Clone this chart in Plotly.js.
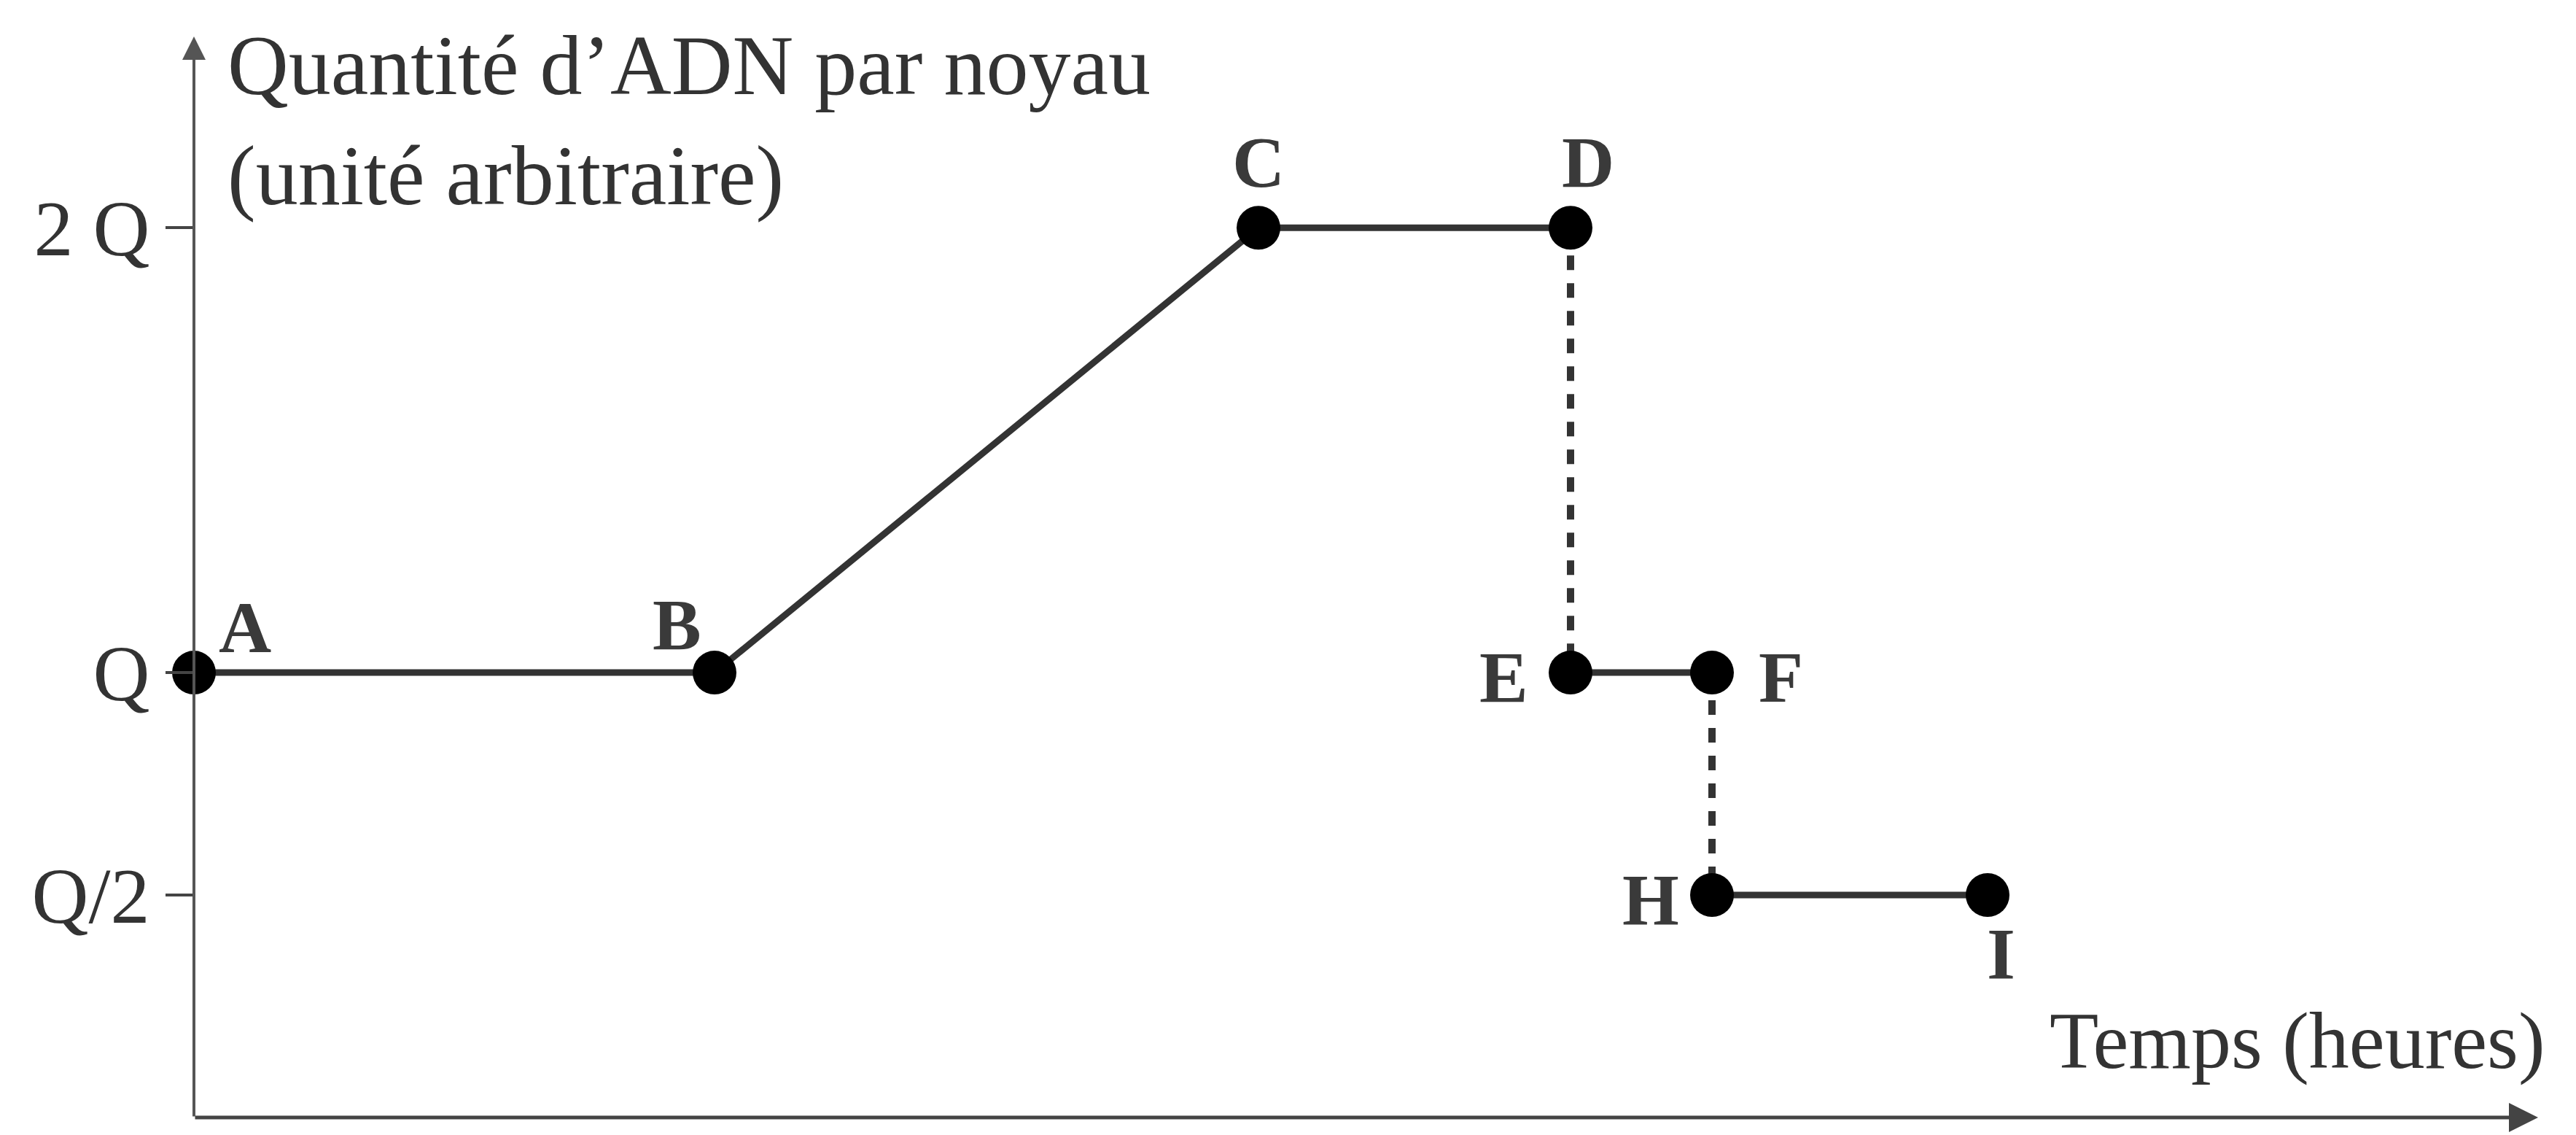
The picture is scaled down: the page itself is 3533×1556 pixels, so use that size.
<!DOCTYPE html>
<html>
<head>
<meta charset="utf-8">
<script src="https://cdn.plot.ly/plotly-3.0.1.min.js"></script>
<style>html,body{margin:0;padding:0;background:#fff;}#chart{width:3533px;height:1556px;}</style>
</head>
<body>
<div id="chart"></div>
<script>
// ---- data ----
const pointLabels = ['A', 'B', 'C', 'D', 'E', 'F', 'H', 'I'];
const times = [0, 7.14, 14.6, 18.88, 18.88, 20.82, 20.82, 24.6];
const dnaAmount = [1, 1, 2, 2, 1, 1, 0.5, 0.5];
const solidSegments = [[0, 1, 2, 3], [4, 5], [6, 7]];
const dashedSegments = [[3, 4], [5, 6]];
const yTickValues = [0.5, 1, 2];
const yTickLabels = ['Q/2', 'Q', '2 Q'];
const yTitle = ['Quantité d\u2019ADN par noyau', '(unité arbitraire)'];
const xTitle = 'Temps (heures)';

// ---- styling ----
const FONT = 'Liberation Serif, Times New Roman, serif';
const INK = '#333333';
const X_MAX = 32.15, Y_MAX = 2.43;
const labelOffsets = {
  A: [70, 62], B: [-52, 66], C: [0, 90], D: [24, 90],
  E: [-92, -6], F: [94, -6], H: [-84, -6], I: [18, -80]
};

function segTrace(groups, dash, width) {
  const x = [], y = [];
  groups.forEach((g, k) => {
    if (k > 0) { x.push(null); y.push(null); }
    g.forEach(i => { x.push(times[i]); y.push(dnaAmount[i]); });
  });
  return {
    type: 'scatter', mode: 'lines', x, y, hoverinfo: 'skip', showlegend: false,
    line: { color: INK, width, dash }
  };
}

const traces = [
  segTrace(solidSegments, 'solid', 9),
  segTrace(dashedSegments, '20px,18px', 10),
  {
    type: 'scatter', mode: 'markers', x: times, y: dnaAmount, text: pointLabels,
    showlegend: false, cliponaxis: false,
    marker: { color: '#000', size: 60 }
  }
];

const annotations = pointLabels.map((lab, i) => ({
  x: times[i], y: dnaAmount[i], xref: 'x', yref: 'y', text: lab,
  showarrow: false, xshift: labelOffsets[lab][0], yshift: labelOffsets[lab][1],
  font: { family: FONT, size: 100, color: '#3a3a3a', weight: 'bold' }
}));

// axis arrows
annotations.push({
  x: X_MAX, y: 0, ax: 0, ay: 0, xref: 'x', yref: 'y', axref: 'x', ayref: 'y',
  text: '', showarrow: true, arrowhead: 2, arrowsize: 1.6, arrowwidth: 5, arrowcolor: '#444'
});
annotations.push({
  x: 0, y: Y_MAX, ax: 0, ay: 0, xref: 'x', yref: 'y', axref: 'x', ayref: 'y',
  text: '', showarrow: true, arrowhead: 2, arrowsize: 1.6, arrowwidth: 4, arrowcolor: '#555'
});
// axis titles
annotations.push({
  x: 0, y: Y_MAX, xref: 'x', yref: 'y', xanchor: 'left', yanchor: 'top',
  xshift: 44, yshift: 26, align: 'left', showarrow: false,
  text: yTitle.join('<br>'),
  font: { family: FONT, size: 116, color: INK }
});
annotations.push({
  x: X_MAX, y: 0, xref: 'x', yref: 'y', xanchor: 'right', yanchor: 'bottom',
  xshift: 12, yshift: 42, showarrow: false, text: xTitle,
  font: { family: FONT, size: 110, color: INK }
});

const layout = {
  width: 3533, height: 1556,
  margin: { l: 266, r: 52, t: 50, b: 24, pad: 0 },
  paper_bgcolor: '#fff', plot_bgcolor: '#fff',
  showlegend: false,
  xaxis: {
    range: [0, X_MAX], showgrid: false, zeroline: false, showticklabels: false,
    ticks: '', showline: false, fixedrange: true
  },
  yaxis: {
    range: [0, Y_MAX], showgrid: false, zeroline: false,
    tickmode: 'array', tickvals: yTickValues, ticktext: yTickLabels,
    ticks: 'outside', ticklen: 38, tickwidth: 4, tickcolor: '#444',
    tickfont: { family: FONT, size: 108, color: INK },
    showline: false, fixedrange: true
  },
  annotations
};

Plotly.newPlot('chart', traces, layout, { displayModeBar: false, staticPlot: true });
</script>
</body>
</html>
